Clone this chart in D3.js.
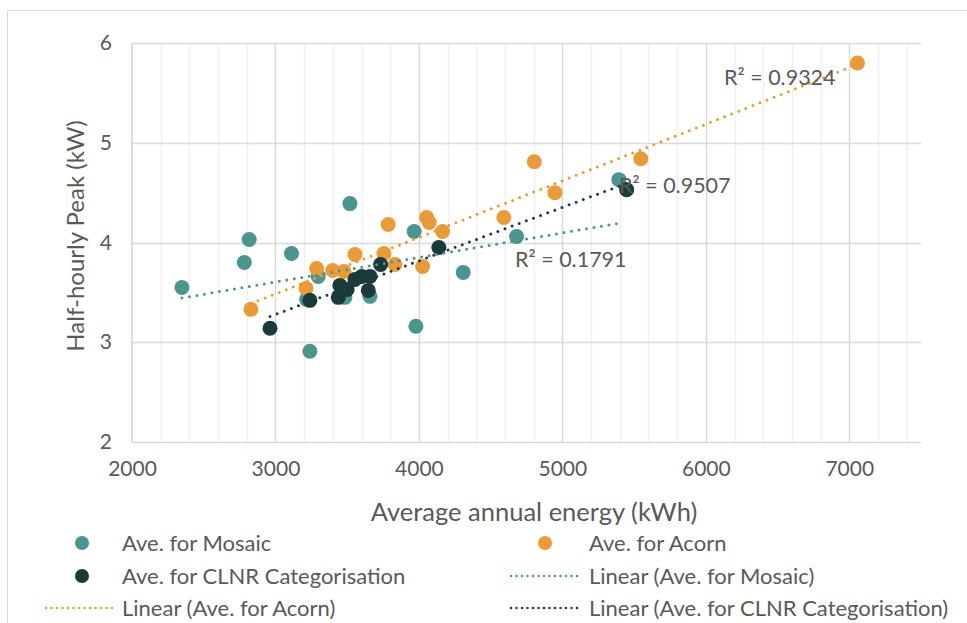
<!DOCTYPE html>
<html>
<head>
<meta charset="utf-8">
<script src="https://cdn.jsdelivr.net/npm/d3@7"></script>
<style>
  html, body { margin: 0; padding: 0; background: #fff; }
  svg { display: block; font-family: Lato, "Open Sans", sans-serif; }
</style>
</head>
<body>
<svg id="chart" width="967" height="623"></svg>
<script>
// ---- Data ----
const mosaicX = [2348, 2817, 2783, 3112, 3298, 3240, 3217, 3519, 3967, 4309, 3979, 3659, 3484, 4681, 5394];
const mosaicY = [3.55, 4.03, 3.80, 3.89, 3.66, 2.91, 3.43, 4.39, 4.11, 3.70, 3.16, 3.46, 3.45, 4.06, 4.63];

const acornX = [2829, 3287, 3399, 3477, 3213, 3554, 3756, 3786, 4054, 4072, 4165, 3833, 4026, 4592, 4804, 4948, 5547, 7057];
const acornY = [3.33, 3.74, 3.72, 3.71, 3.54, 3.88, 3.89, 4.18, 4.25, 4.20, 4.11, 3.78, 3.76, 4.25, 4.81, 4.50, 4.84, 5.80];

const clnrX = [2962, 3240, 3438, 3449, 3500, 3554, 3601, 3659, 3647, 3733, 4139, 5448];
const clnrY = [3.14, 3.42, 3.45, 3.57, 3.53, 3.63, 3.66, 3.66, 3.52, 3.78, 3.95, 4.53];

const xTicks = [2000, 3000, 4000, 5000, 6000, 7000];
const yTicks = [2, 3, 4, 5, 6];
const r2Labels = ["R² = 0.1791", "R² = 0.9324", "R² = 0.9507"];
const seriesNames = ["Ave. for Mosaic", "Ave. for Acorn", "Ave. for CLNR Categorisation"];
const trendNames = ["Linear (Ave. for Mosaic)", "Linear (Ave. for Acorn)", "Linear (Ave. for CLNR Categorisation)"];
const xTitle = "Average annual energy (kWh)";
const yTitle = "Half-hourly Peak (kW)";

// ---- Setup ----
const colors = ["#4a958e", "#e99a39", "#1b3a3a"];
const textColor = "#595959";
const svg = d3.select("#chart");

const x = d3.scaleLinear().domain([2000, 7500]).range([132, 921]);
const y = d3.scaleLinear().domain([2, 6]).range([442, 43]);

// outer frame
svg.append("path").attr("d", "M7.5,623 L7.5,10.5 L967,10.5")
  .attr("fill", "none").attr("stroke", "#d9d9d9").attr("stroke-width", 1);

// minor vertical grid
const minorX = d3.range(2200, 7500, 200).filter(v => v % 1000 !== 0);
svg.append("g").selectAll("line").data(minorX).join("line")
  .attr("x1", d => Math.round(x(d)) + 0.5).attr("x2", d => Math.round(x(d)) + 0.5)
  .attr("y1", y(6)).attr("y2", y(2))
  .attr("stroke", "#f0f0f0").attr("stroke-width", 1.5);

// major vertical grid
svg.append("g").selectAll("line").data(xTicks.filter(v => v > 2000)).join("line")
  .attr("x1", d => Math.round(x(d)) + 0.5).attr("x2", d => Math.round(x(d)) + 0.5)
  .attr("y1", y(6)).attr("y2", y(2))
  .attr("stroke", "#d9d9d9").attr("stroke-width", 1.5);

// horizontal grid
svg.append("g").selectAll("line").data(yTicks).join("line")
  .attr("x1", x(2000)).attr("x2", x(7500))
  .attr("y1", d => Math.round(y(d)) + 0.5).attr("y2", d => Math.round(y(d)) + 0.5)
  .attr("stroke", "#d9d9d9").attr("stroke-width", 1.5);

// left axis line
svg.append("line").attr("x1", x(2000)).attr("x2", x(2000)).attr("y1", y(6)).attr("y2", y(2))
  .attr("stroke", "#d0d0d0").attr("stroke-width", 1.5);

// axes (text only)
const xAxis = svg.append("g").attr("transform", `translate(0,${y(2)})`)
  .call(d3.axisBottom(x).tickValues(xTicks).tickSize(0).tickPadding(19).tickFormat(d3.format("d")));
xAxis.select(".domain").remove();
xAxis.selectAll("text").attr("fill", textColor).style("font-size", "21px").style("font-family", "Lato");

const yAxis = svg.append("g").attr("transform", `translate(${x(2000)},0)`)
  .call(d3.axisLeft(y).tickValues(yTicks).tickSize(0).tickPadding(20).tickFormat(d3.format("d")));
yAxis.select(".domain").remove();
yAxis.selectAll("text").attr("fill", textColor).style("font-size", "21px").style("font-family", "Lato");

// axis titles
svg.append("text").attr("x", 534).attr("y", 521).attr("text-anchor", "middle")
  .attr("fill", textColor).style("font-size", "25.5px").text(xTitle);
svg.append("text").attr("transform", "translate(84,236) rotate(-90)").attr("text-anchor", "middle")
  .attr("fill", textColor).style("font-size", "24px").text(yTitle);

// ---- regression trendlines ----
function linReg(xs, ys) {
  const n = xs.length;
  const mx = d3.mean(xs), my = d3.mean(ys);
  let sxy = 0, sxx = 0;
  for (let i = 0; i < n; i++) { sxy += (xs[i] - mx) * (ys[i] - my); sxx += (xs[i] - mx) ** 2; }
  const b = sxy / sxx, a = my - b * mx;
  return { a, b, x0: d3.min(xs), x1: d3.max(xs) };
}
const seriesX = [mosaicX, acornX, clnrX];
const seriesY = [mosaicY, acornY, clnrY];

const dotStyle = sel => sel.attr("stroke-width", 3).attr("stroke-linecap", "round")
  .attr("stroke-dasharray", "0 7.6").attr("fill", "none");

// points
const order = [0, 1, 2];
order.forEach(s => {
  const pts = seriesX[s].map((v, i) => [v, seriesY[s][i]]);
  svg.append("g").selectAll("circle").data(pts).join("circle")
    .attr("cx", d => x(d[0])).attr("cy", d => y(d[1])).attr("r", 7.5)
    .attr("fill", colors[s]);
});

// trendlines drawn above points
order.forEach(s => {
  const r = linReg(seriesX[s], seriesY[s]);
  svg.append("line")
    .attr("x1", x(r.x0)).attr("y1", y(r.a + r.b * r.x0))
    .attr("x2", x(r.x1)).attr("y2", y(r.a + r.b * r.x1))
    .attr("stroke", colors[s]).call(dotStyle);
});

// R² labels
const r2Pos = [[515, 267], [724, 85], [619, 193]];
r2Labels.forEach((t, i) => {
  svg.append("text").attr("x", r2Pos[i][0]).attr("y", r2Pos[i][1])
    .attr("fill", textColor).style("font-size", "21.5px").text(t);
});

// ---- legend ----
const leg = svg.append("g").style("font-size", "22px").attr("fill", textColor);
const legendItems = [
  { kind: "dot", c: 0, label: seriesNames[0], sx: 82, tx: 122, y: 543 },
  { kind: "dot", c: 1, label: seriesNames[1], sx: 545, tx: 589, y: 543 },
  { kind: "dot", c: 2, label: seriesNames[2], sx: 82, tx: 122, y: 576 },
  { kind: "line", c: 0, label: trendNames[0], sx: 511, ex: 582, tx: 589, y: 576 },
  { kind: "line", c: 1, label: trendNames[1], sx: 46, ex: 114, tx: 122, y: 608 },
  { kind: "line", c: 2, label: trendNames[2], sx: 511, ex: 582, tx: 589, y: 608 }
];
legendItems.forEach(it => {
  if (it.kind === "dot") {
    leg.append("circle").attr("cx", it.sx).attr("cy", it.y).attr("r", 7).attr("fill", colors[it.c]);
  } else {
    leg.append("line").attr("x1", it.sx).attr("x2", it.ex).attr("y1", it.y).attr("y2", it.y)
      .attr("stroke", colors[it.c]).attr("stroke-width", 2.5).attr("stroke-linecap", "round")
      .attr("stroke-dasharray", "0 5.5");
  }
  leg.append("text").attr("x", it.tx).attr("y", it.y).attr("dy", "0.35em").text(it.label);
});
</script>
</body>
</html>
